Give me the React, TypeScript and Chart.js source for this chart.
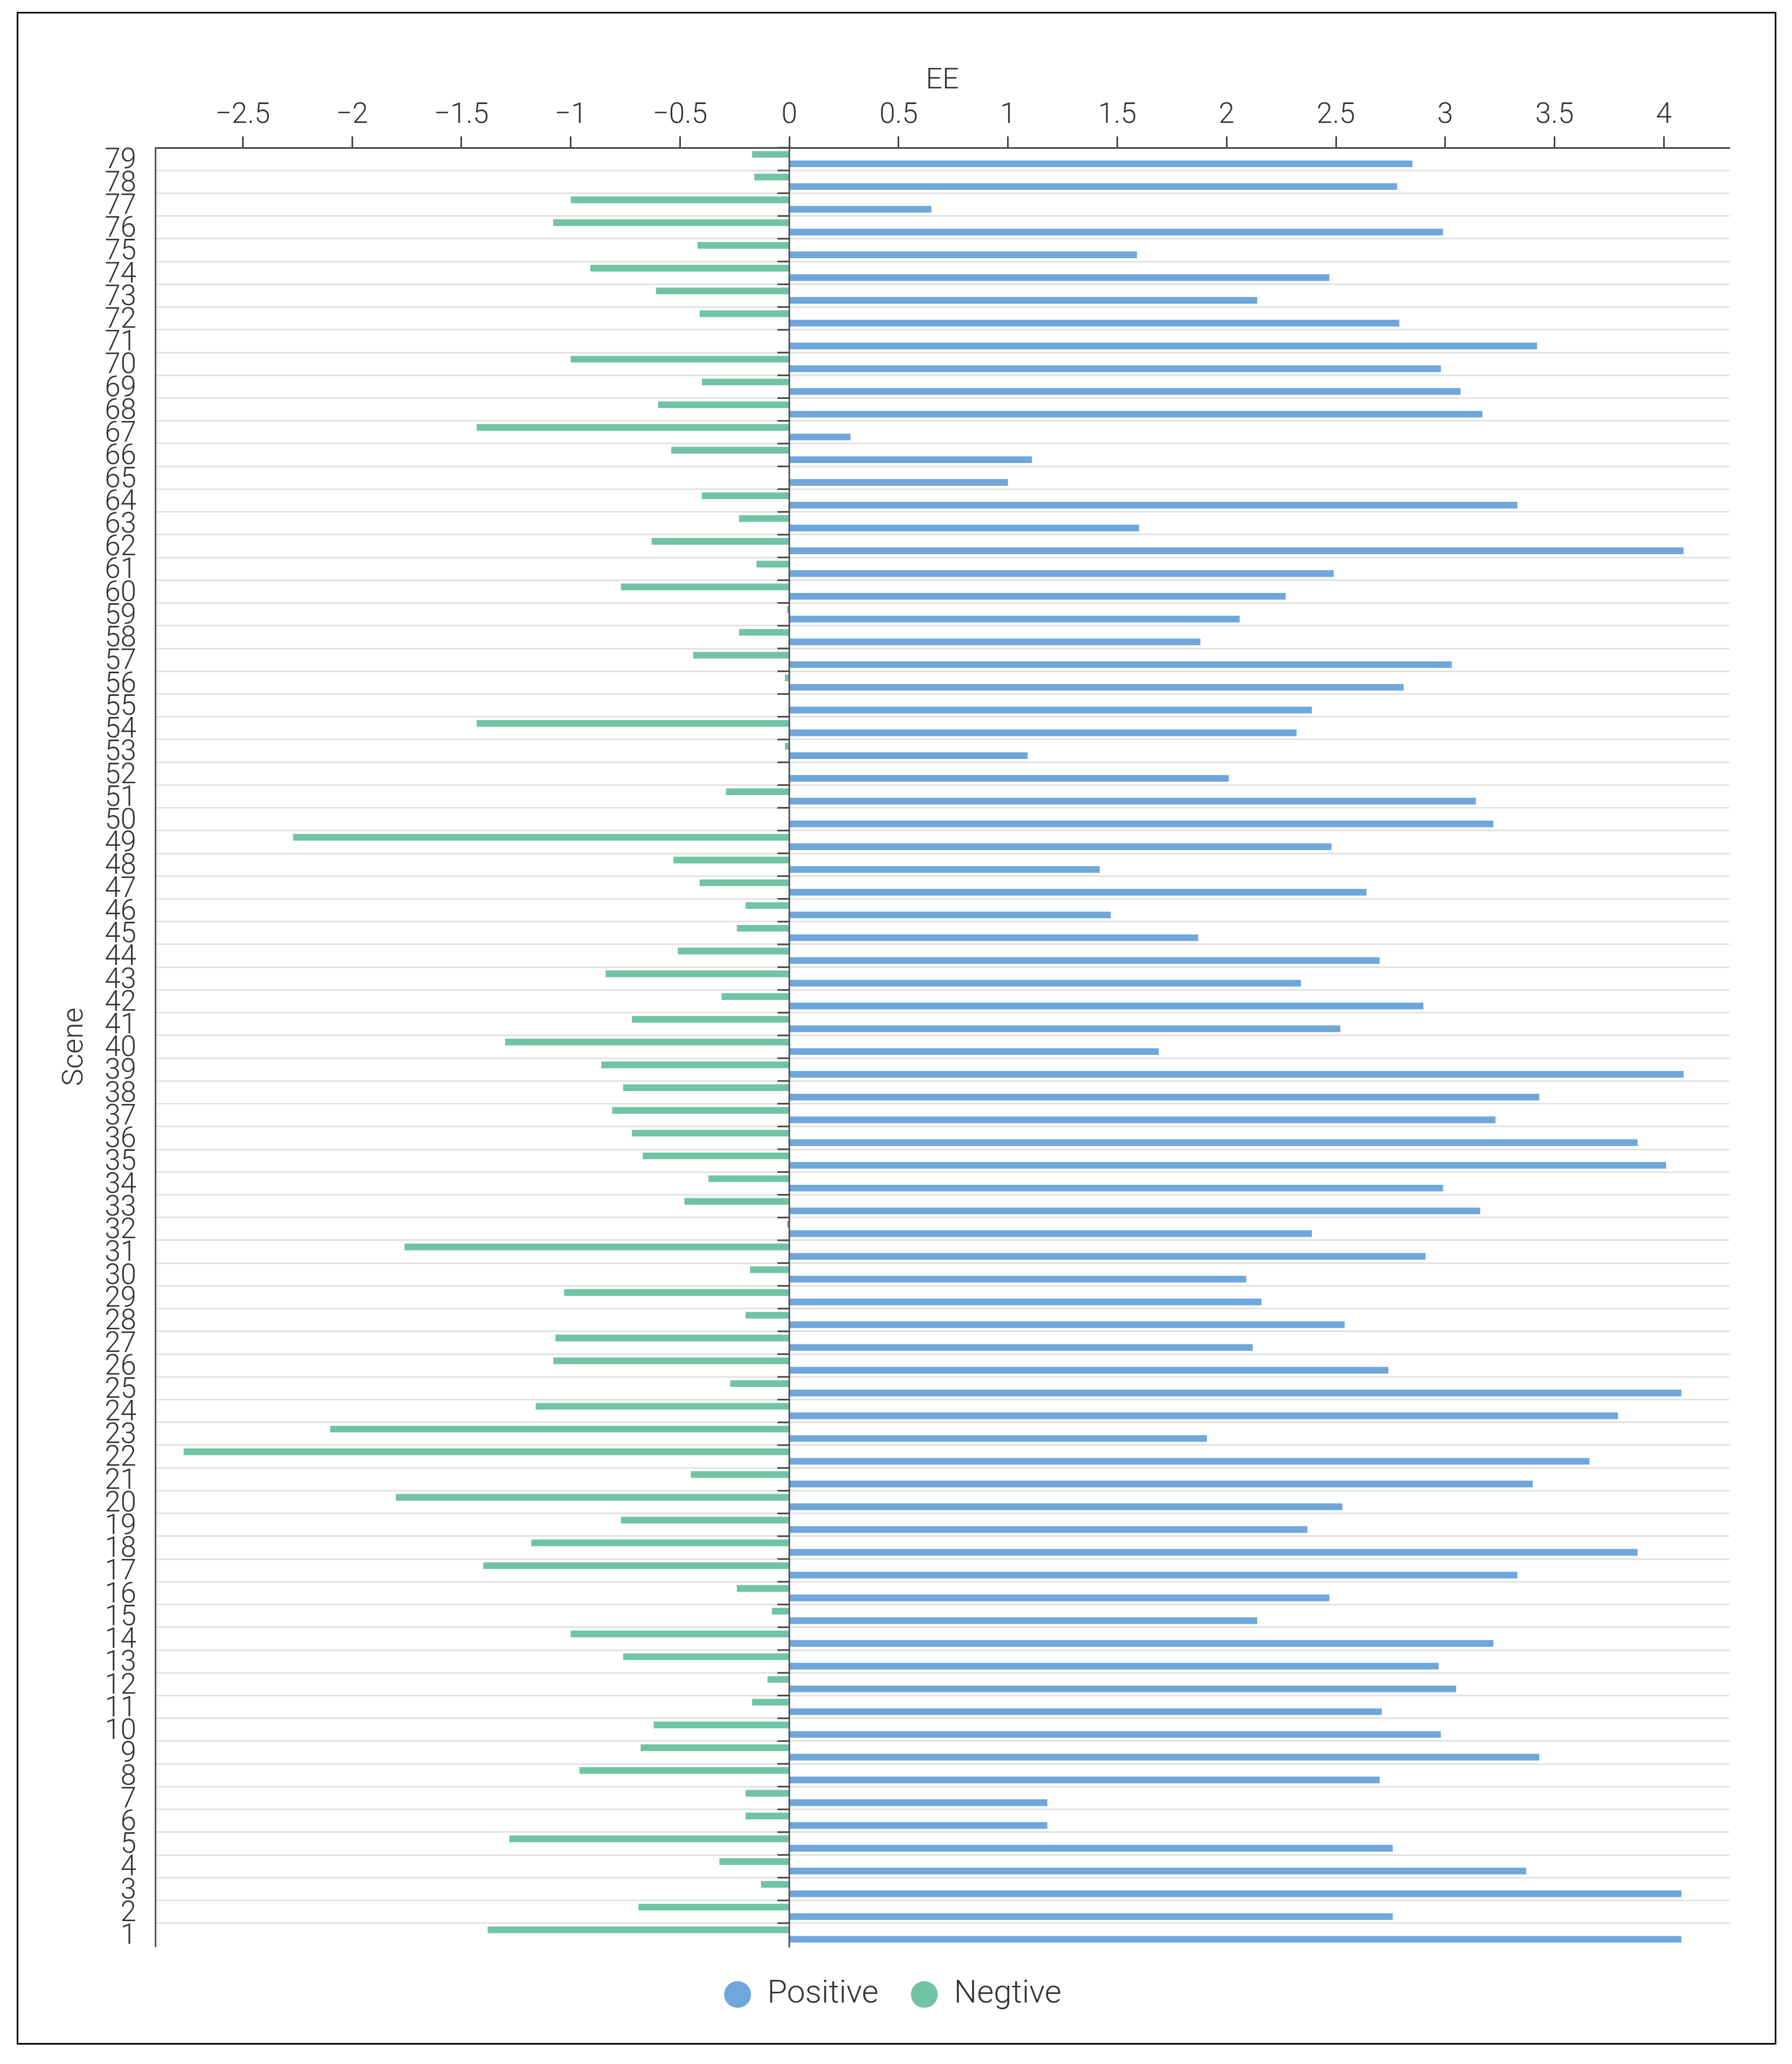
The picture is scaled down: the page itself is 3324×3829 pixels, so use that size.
import React, { useEffect, useRef } from 'react';
import { Chart, registerables } from 'chart.js';

Chart.register(...registerables);

const scenes = [
  '1', '2', '3', '4', '5', '6', '7', '8', '9', '10',
  '11', '12', '13', '14', '15', '16', '17', '18', '19', '20',
  '21', '22', '23', '24', '25', '26', '27', '28', '29', '30',
  '31', '32', '33', '34', '35', '36', '37', '38', '39', '40',
  '41', '42', '43', '44', '45', '46', '47', '48', '49', '50',
  '51', '52', '53', '54', '55', '56', '57', '58', '59', '60',
  '61', '62', '63', '64', '65', '66', '67', '68', '69', '70',
  '71', '72', '73', '74', '75', '76', '77', '78', '79',
];

const positive = [
  4.08, 2.76, 4.08, 3.37, 2.76, 1.18, 1.18, 2.70, 3.43, 2.98,
  2.71, 3.05, 2.97, 3.22, 2.14, 2.47, 3.33, 3.88, 2.37, 2.53,
  3.40, 3.66, 1.91, 3.79, 4.08, 2.74, 2.12, 2.54, 2.16, 2.09,
  2.91, 2.39, 3.16, 2.99, 4.01, 3.88, 3.23, 3.43, 4.09, 1.69,
  2.52, 2.90, 2.34, 2.70, 1.87, 1.47, 2.64, 1.42, 2.48, 3.22,
  3.14, 2.01, 1.09, 2.32, 2.39, 2.81, 3.03, 1.88, 2.06, 2.27,
  2.49, 4.09, 1.60, 3.33, 1.00, 1.11, 0.28, 3.17, 3.07, 2.98,
  3.42, 2.79, 2.14, 2.47, 1.59, 2.99, 0.65, 2.78, 2.85,
];

const negative = [
  -1.38, -0.69, -0.13, -0.32, -1.28, -0.20, -0.20, -0.96, -0.68, -0.62,
  -0.17, -0.10, -0.76, -1.00, -0.08, -0.24, -1.40, -1.18, -0.77, -1.80,
  -0.45, -2.77, -2.10, -1.16, -0.27, -1.08, -1.07, -0.20, -1.03, -0.18,
  -1.76, -0.01, -0.48, -0.37, -0.67, -0.72, -0.81, -0.76, -0.86, -1.30,
  -0.72, -0.31, -0.84, -0.51, -0.24, -0.20, -0.41, -0.53, -2.27, 0,
  -0.29, 0, -0.02, -1.43, 0, -0.02, -0.44, -0.23, -0.01, -0.77,
  -0.15, -0.63, -0.23, -0.40, 0, -0.54, -1.43, -0.60, -0.40, -1.00,
  0, -0.41, -0.61, -0.91, -0.42, -1.08, -1.00, -0.16, -0.17,
];

const xTickValues = [-2.5, -2, -1.5, -1, -0.5, 0, 0.5, 1, 1.5, 2, 2.5, 3, 3.5, 4];
const xMin = -2.9;
const xMax = 4.3;

const FONT = 'Roboto, "Liberation Sans", "DejaVu Sans", sans-serif';
const TEXT = '#333333';
const BLUE = '#6fa7db';
const GREEN = '#71c4a3';

const CANVAS_W = 3258;
const CANVAS_H = 3765;

const fmt = (v: number) => (v < 0 ? '\u2212' + String(Math.abs(v)) : String(v));

const zeroAxisPlugin = {
  id: 'zeroAxis',
  afterDatasetsDraw(chart: any) {
    const xs = chart.scales.x;
    const ys = chart.scales.y;
    const ctx = chart.ctx;
    const x0 = xs.getPixelForValue(0);
    ctx.save();
    ctx.strokeStyle = '#555555';
    ctx.lineWidth = 3;
    ctx.beginPath();
    ctx.moveTo(x0, ys.top);
    ctx.lineTo(x0, ys.bottom + 3);
    ctx.stroke();
    ctx.strokeStyle = '#444444';
    for (let i = 0; i < scenes.length; i++) {
      const py = ys.getPixelForValue(i + 0.5);
      ctx.beginPath();
      ctx.moveTo(x0 - 22, py);
      ctx.lineTo(x0, py);
      ctx.stroke();
    }
    ctx.restore();
  },
};

export default function App() {
  const ref = useRef<HTMLCanvasElement | null>(null);

  useEffect(() => {
    if (!ref.current) return;
    const chart = new Chart(ref.current, {
      type: 'bar',
      data: {
        labels: scenes,
        datasets: [
          {
            label: 'Negtive',
            data: negative,
            backgroundColor: GREEN,
            borderWidth: 0,
            categoryPercentage: 0.83,
            barPercentage: 0.71,
          },
          {
            label: 'Positive',
            data: positive,
            backgroundColor: BLUE,
            borderWidth: 0,
            categoryPercentage: 0.83,
            barPercentage: 0.71,
          },
        ],
      },
      options: {
        indexAxis: 'y',
        responsive: false,
        devicePixelRatio: 1,
        animation: false,
        layout: { padding: { left: 70, top: 93, right: 84, bottom: 50 } },
        scales: {
          x: {
            type: 'linear',
            position: 'top',
            min: xMin,
            max: xMax,
            afterBuildTicks: (s: any) => {
              s.ticks = xTickValues.map((v) => ({ value: v }));
            },
            afterFit: (s: any) => {
              s.height = 156;
            },
            grid: {
              drawOnChartArea: false,
              drawTicks: true,
              tickLength: 21,
              tickColor: '#444444',
              tickWidth: 3,
            },
            border: { display: true, color: '#444444', width: 3 },
            ticks: {
              autoSkip: false,
              maxRotation: 0,
              padding: 6,
              color: TEXT,
              font: { family: FONT, size: 53, weight: '300' },
              callback: (v: any) => fmt(Number(v)),
            },
            title: {
              display: true,
              text: 'EE',
              color: TEXT,
              padding: 0,
              font: { family: FONT, size: 54, weight: '300' },
            },
          },
          y: {
            type: 'category',
            reverse: true,
            offset: true,
            afterFit: (s: any) => {
              s.width = 184;
            },
            grid: {
              offset: true,
              drawTicks: false,
              lineWidth: 3,
              color: (c: any) => (c.index === 0 ? 'rgba(0,0,0,0)' : '#e2e2e2'),
            },
            border: { display: true, color: '#555555', width: 3 },
            ticks: {
              autoSkip: false,
              padding: 35,
              labelOffset: 4,
              color: TEXT,
              font: { family: FONT, size: 53, weight: '300' },
            },
            title: {
              display: true,
              text: 'Scene',
              color: TEXT,
              padding: { top: 3, bottom: 0 },
              font: { family: FONT, size: 54, weight: '300' },
            },
          },
        },
        plugins: {
          legend: {
            position: 'bottom',
            reverse: true,
            labels: {
              usePointStyle: true,
              pointStyle: 'circle',
              pointStyleWidth: 50,
              boxHeight: 35,
              padding: 60,
              color: TEXT,
              font: { family: FONT, size: 60, weight: '300' },
            },
          },
          tooltip: { enabled: false },
        },
      },
      plugins: [zeroAxisPlugin],
    } as any);
    return () => chart.destroy();
  }, []);

  return (
    <div
      style={{
        position: 'absolute',
        left: 31,
        top: 22,
        width: CANVAS_W + 6,
        height: CANVAS_H + 6,
        border: '3px solid #000',
        boxSizing: 'border-box',
        background: '#fff',
      }}
    >
      <canvas ref={ref} width={CANVAS_W} height={CANVAS_H} style={{ display: 'block' }} />
    </div>
  );
}
